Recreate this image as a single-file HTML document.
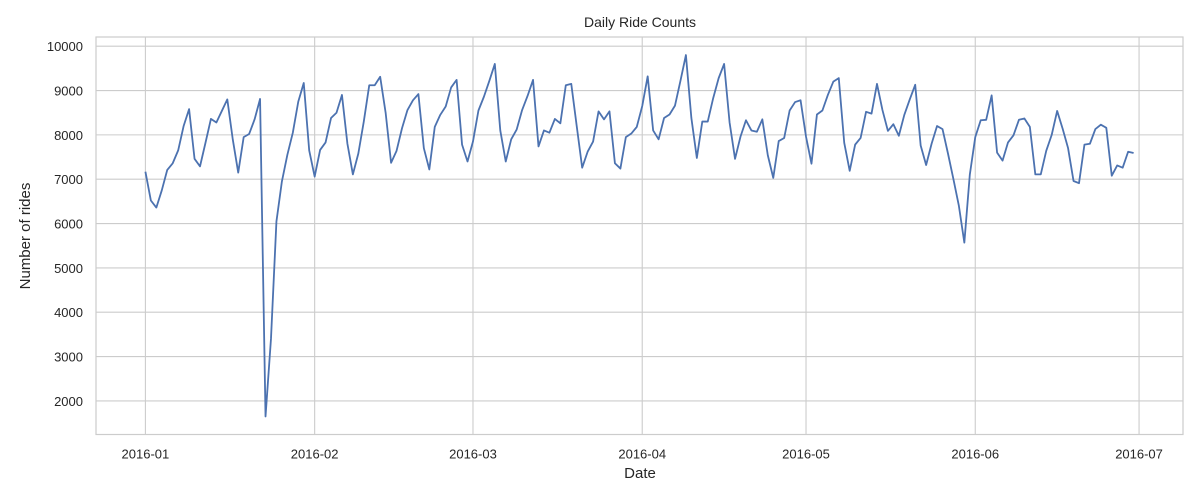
<!DOCTYPE html>
<html><head><meta charset="utf-8"><style>
html,body{margin:0;padding:0;background:#fff;}
svg{display:block;font-family:"Liberation Sans","DejaVu Sans",sans-serif;}
</style></head><body>
<svg id="chart" width="1200" height="500" xmlns="http://www.w3.org/2000/svg">
<text x="640" y="27" text-anchor="middle" font-size="14" fill="#262626">Daily Ride Counts</text>
<text x="640" y="478" text-anchor="middle" font-size="15" fill="#262626">Date</text>
<text transform="translate(30,236) rotate(-90)" text-anchor="middle" font-size="15" fill="#262626">Number of rides</text>
<g id="grid"></g><g id="ticks"></g><g id="series"></g>
<rect x="96" y="37" width="1087" height="397.5" fill="none" stroke="#cccccc" stroke-width="1.2"/>
</svg>
<script>
const rides = [7170,6520,6360,6750,7210,7360,7650,8200,8580,7460,7290,7820,8360,8280,8540,8800,7900,7150,7950,8020,8350,8810,1650,3400,6050,6950,7550,8050,8750,9170,7650,
7060,7660,7830,8380,8500,8900,7800,7110,7580,8300,9120,9120,9310,8500,7370,7640,8150,8560,8780,8920,7700,7220,8180,8450,8640,9070,9240,7780,7400,
7850,8550,8860,9220,9600,8100,7400,7900,8120,8560,8880,9240,7740,8100,8050,8360,8260,9120,9150,8200,7260,7620,7850,8530,8350,8530,7360,7240,7950,8030,8180,
8650,9320,8100,7900,8380,8460,8660,9220,9800,8380,7480,8300,8300,8830,9280,9600,8280,7460,7960,8330,8100,8070,8350,7540,7030,7860,7930,8550,8740,8780,
7960,7350,8460,8550,8900,9200,9280,7820,7190,7780,7930,8520,8480,9150,8560,8090,8240,7980,8450,8800,9130,7760,7320,7800,8200,8130,7580,7000,6400,5570,7100,
7950,8330,8340,8890,7600,7420,7830,7990,8340,8370,8180,7110,7110,7640,8000,8540,8140,7700,6960,6910,7780,7800,8130,8230,8160,7080,7310,7260,7620,7590];
const xTickDays = [0,31,60,91,121,152,182];
const xTickLabels = ["2016-01","2016-02","2016-03","2016-04","2016-05","2016-06","2016-07"];
const yTicks = [2000,3000,4000,5000,6000,7000,8000,9000,10000];

const NS = "http://www.w3.org/2000/svg";
const L=96,R=1183,T=37,B=434.5;
const dMin=-9.05,dMax=190.05,vMin=1242.5,vMax=10207.5;
const xS=d=>L+(d-dMin)/(dMax-dMin)*(R-L);
const yS=v=>B-(v-vMin)/(vMax-vMin)*(B-T);
function mk(tag,attrs,parent){const e=document.createElementNS(NS,tag);for(const k in attrs)e.setAttribute(k,attrs[k]);parent.appendChild(e);return e;}
const grid=document.getElementById('grid'),ticks=document.getElementById('ticks'),series=document.getElementById('series');
yTicks.forEach(v=>{
  const g=mk('line',{x1:L,x2:R,y1:yS(v),y2:yS(v),stroke:'#cccccc','stroke-width':1.1},grid);
  
  
  const t=mk('text',{x:L-13,y:yS(v)+5,'text-anchor':'end','font-size':13,fill:'#262626'},ticks);
  t.textContent=v;
  
  
});
xTickDays.forEach((d,i)=>{
  const g=mk('line',{x1:xS(d),x2:xS(d),y1:T,y2:B,stroke:'#cccccc','stroke-width':1.1},grid);
  
  
  const t=mk('text',{x:xS(d),y:B+24,'text-anchor':'middle','font-size':13,fill:'#262626'},ticks);
  t.textContent=xTickLabels[i];
  
  
});
const p=mk('polyline',{points:rides.map((v,i)=>xS(i).toFixed(2)+','+yS(v).toFixed(2)).join(' '),fill:'none',stroke:'#4c72b0','stroke-width':1.8,'stroke-linejoin':'round'},series);


</script>
</body></html>
